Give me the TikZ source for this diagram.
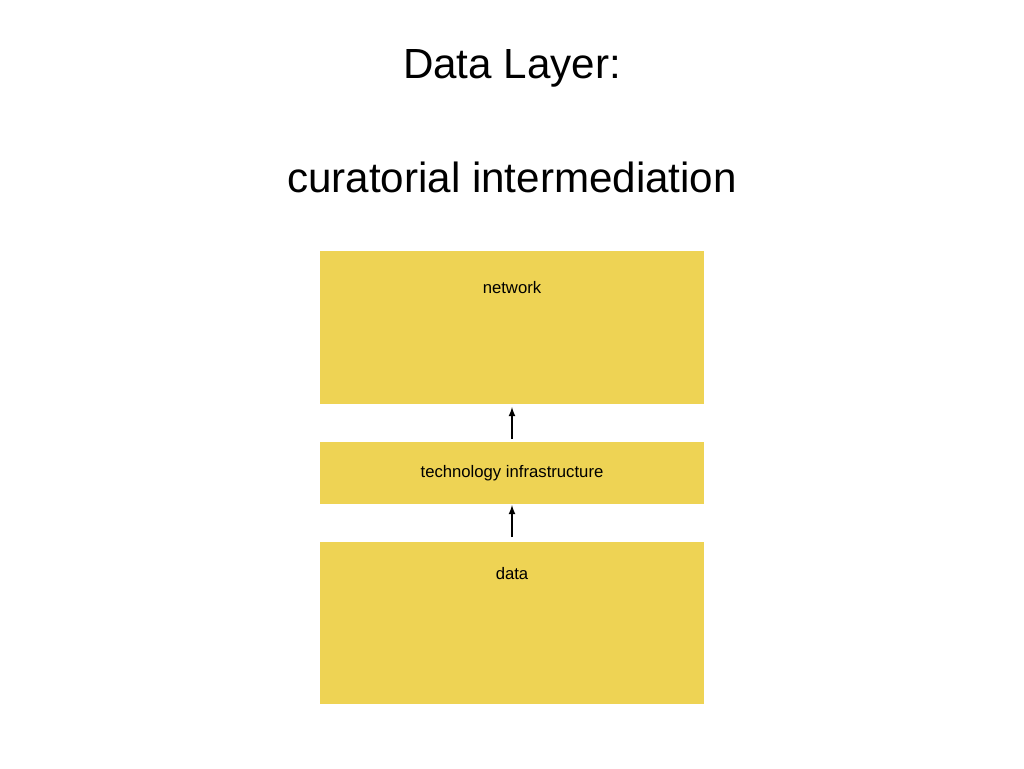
\documentclass[tikz,border=0pt]{standalone}
\usepackage{fontspec}
\setmainfont{Liberation Sans}
\definecolor{layeryellow}{RGB}{238,211,84}

\begin{document}
\begin{tikzpicture}[x=0.02cm,y=-0.02cm]
\tikzstyle{layer}=[fill=layeryellow,draw=none]
\tikzstyle{every node}+=[inner sep=0pt]
\useasboundingbox (0,0) rectangle (1024,768);
\draw (512,68) node (title) {\fontsize{24}{28}\selectfont Data Layer:};
\draw (512,177) node (subtitle) {\fontsize{24}{28}\selectfont curatorial intermediation};
\fill [layer] (320,251) rectangle (704,404);
\fill [layer] (320,442) rectangle (704,504);
\fill [layer] (320,542) rectangle (704,704);
\draw (512,288) node (network) {\fontsize{9.5}{11}\selectfont network};
\draw (512,473) node (tech) {\fontsize{9.5}{11}\selectfont technology infrastructure};
\draw (512,574) node (data) {\fontsize{9.5}{11}\selectfont data};
\coordinate (techtop) at (512,439);
\coordinate (networkbot) at (512,407);
\coordinate (datatop) at (512,537);
\coordinate (techbot) at (512,505);
\draw [black,thick,-latex] (techtop) -- (networkbot);
\draw [black,thick,-latex] (datatop) -- (techbot);
\end{tikzpicture}
\end{document}
